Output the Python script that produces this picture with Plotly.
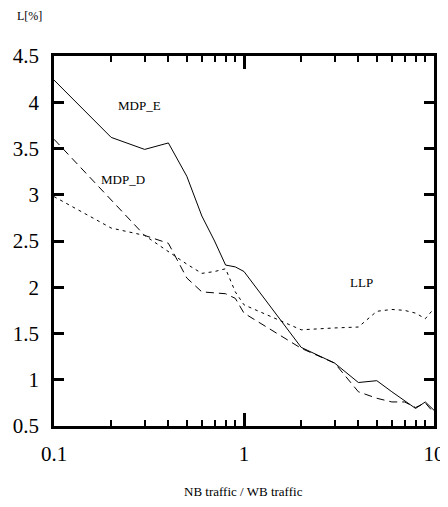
import plotly.graph_objects as go

x_vals = [0.1, 0.2, 0.3, 0.4, 0.5, 0.6, 0.7, 0.8, 0.9, 1, 2, 3, 4, 5, 6, 7, 8, 9, 10]
mdp_e = [4.24, 3.62, 3.49, 3.56, 3.20, 2.77, 2.50, 2.24, 2.22, 2.17, 1.35, 1.18, 0.97, 0.99, 0.87, 0.77, 0.69, 0.76, 0.67]
mdp_d = [3.60, 2.94, 2.56, 2.475, 2.10, 1.95, 1.94, 1.93, 1.88, 1.72, 1.34, 1.18, 0.87, 0.80, 0.76, 0.76, 0.70, 0.75, 0.64]
llp = [2.98, 2.64, 2.56, 2.38, 2.25, 2.15, 2.17, 2.20, 1.95, 1.81, 1.54, 1.56, 1.57, 1.74, 1.76, 1.75, 1.72, 1.66, 1.77]

x_ticks = [0.1, 1, 10]
x_ticklabels = ["0.1", "1", "10"]
y_ticks = [0.5, 1, 1.5, 2, 2.5, 3, 3.5, 4, 4.5]
y_ticklabels = ["0.5", "1", "1.5", "2", "2.5", "3", "3.5", "4", "4.5"]

FONT = "Liberation Serif"

fig = go.Figure()
fig.add_trace(go.Scatter(x=x_vals, y=mdp_e, mode="lines", name="MDP_E",
                         line=dict(color="black", width=1)))
fig.add_trace(go.Scatter(x=x_vals, y=mdp_d, mode="lines", name="MDP_D",
                         line=dict(color="black", width=1, dash="8px,5px")))
fig.add_trace(go.Scatter(x=x_vals, y=llp, mode="lines", name="LLP",
                         line=dict(color="black", width=1, dash="3px,4px")))

fig.update_xaxes(type="log", range=[-1, 1], tickmode="array", tickvals=x_ticks, ticktext=x_ticklabels,
                 ticks="inside", ticklen=13, tickwidth=2.5, tickcolor="#000000",
                 showline=True, linewidth=2.5, linecolor="#000000", mirror="ticks",
                 showgrid=False, zeroline=False, automargin=False,
                 ticklabelstandoff=7,
                 tickfont=dict(family=FONT, size=21, color="black"),
                 minor=dict(ticks="inside", ticklen=6, tickwidth=2, tickcolor="#000000",
                            dtick="D1", showgrid=False))
fig.update_yaxes(range=[0.5, 4.5], tickmode="array", tickvals=y_ticks, ticktext=y_ticklabels,
                 ticks="inside", ticklen=10, tickwidth=2.5, tickcolor="#000000",
                 showline=True, linewidth=2.5, linecolor="#000000", mirror="ticks",
                 showgrid=False, zeroline=False, automargin=False,
                 ticklabelstandoff=8,
                 tickfont=dict(family=FONT, size=21, color="black"))

annots = [
    dict(text="L[%]", x=-0.064, y=1.108, xref="paper", yref="paper", size=12),
    dict(text="NB traffic / WB traffic", x=0.4993, y=-0.178, xref="paper", yref="paper", size=13),
    dict(text="MDP_E", x=-0.5506, y=3.97, xref="x", yref="y", size=13),
    dict(text="MDP_D", x=-0.635, y=3.16, xref="x", yref="y", size=13),
    dict(text="LLP", x=0.616, y=2.05, xref="x", yref="y", size=13),
]
for a in annots:
    fig.add_annotation(text=a["text"], x=a["x"], y=a["y"], xref=a["xref"], yref=a["yref"],
                       showarrow=False, xanchor="center", yanchor="middle",
                       font=dict(family=FONT, size=a["size"], color="black"))

# page body has an 8px margin; figure is sized/placed so the plot area lands where the reference has it
fig.update_layout(width=440, height=499, plot_bgcolor="white", paper_bgcolor="white",
                  font=dict(family=FONT, color="black"),
                  margin=dict(l=46, r=14, t=48, b=81), showlegend=False)

fig.write_html("out.html")
